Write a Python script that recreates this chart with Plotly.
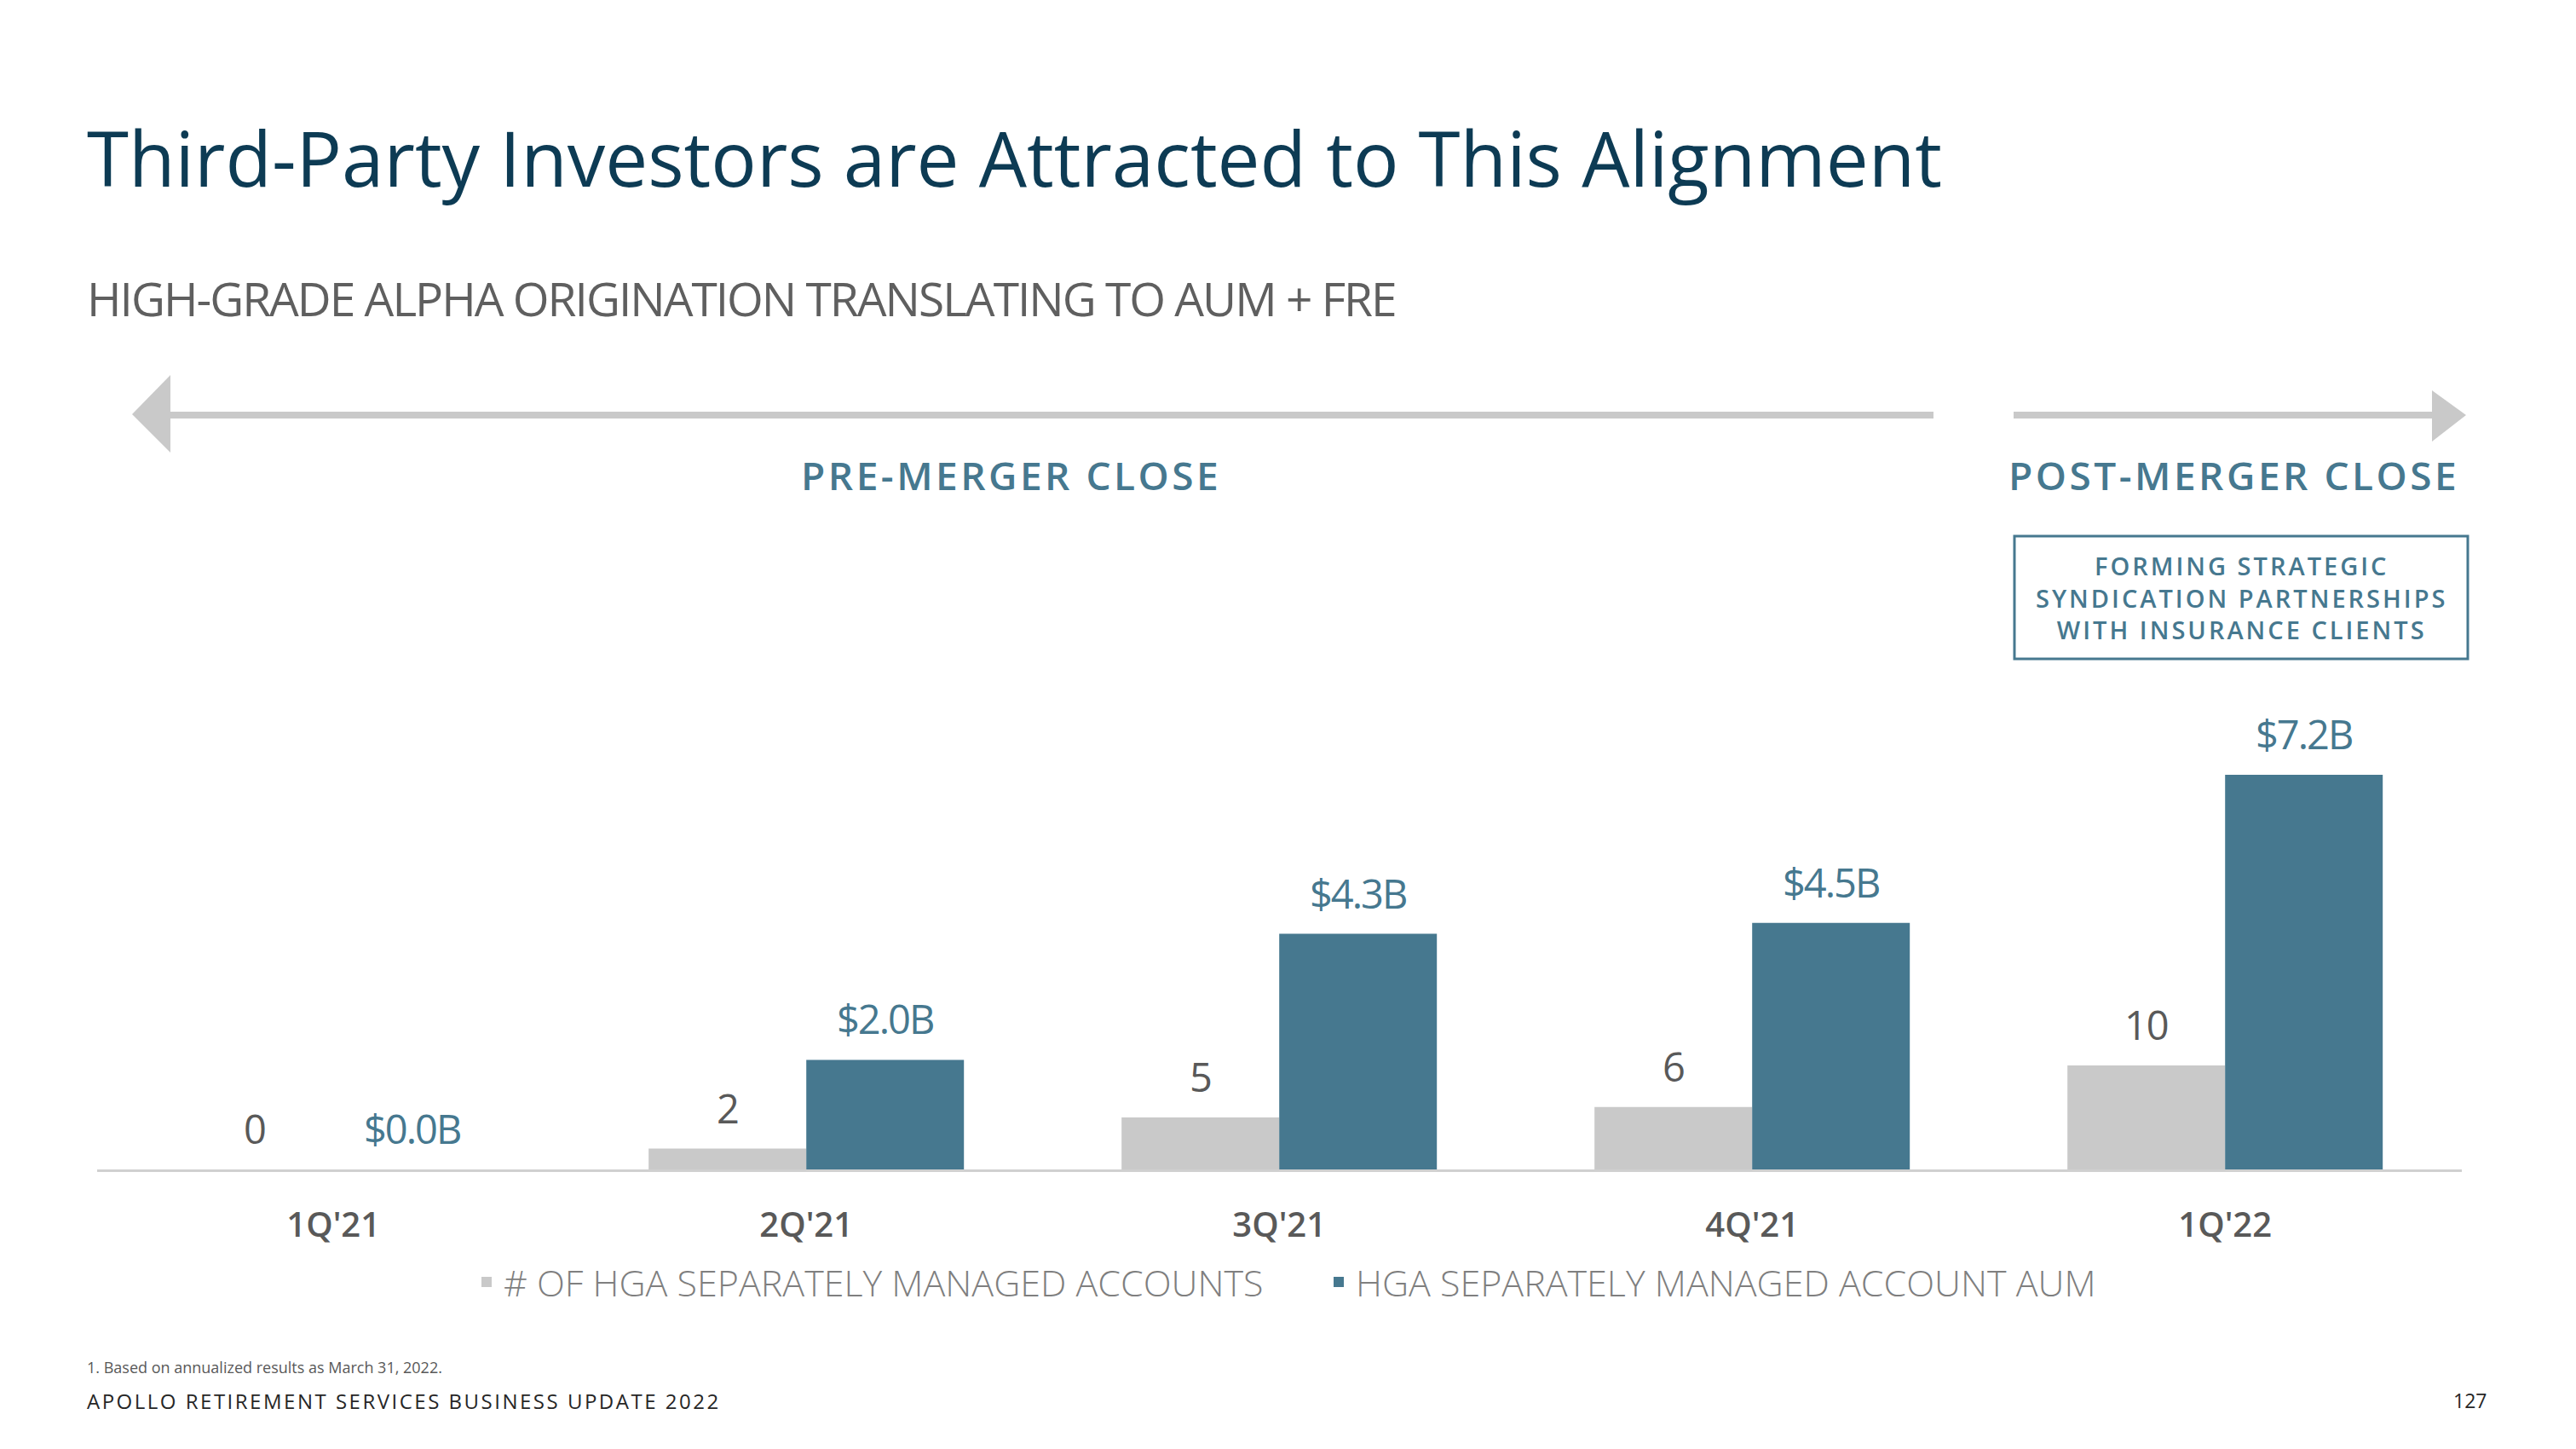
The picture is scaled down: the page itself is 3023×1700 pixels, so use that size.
import plotly.graph_objects as go

# ---------------- data ----------------
quarters = ["1Q'21", "2Q'21", "3Q'21", "4Q'21", "1Q'22"]
sma_counts = [0, 2, 5, 6, 10]
sma_aum_bn = [0.0, 2.0, 4.3, 4.5, 7.2]
count_series_name = "# OF HGA SEPARATELY MANAGED ACCOUNTS"
aum_series_name = "HGA SEPARATELY MANAGED ACCOUNT AUM"

# ---------------- style ----------------
W, H = 3023, 1700
GRAY_BAR = "#C9C9C9"
BLUE = "#46788F"
TITLE_COL = "#0D3B54"
TEXT_GRAY = "#595959"
SANS = "Open Sans, Noto Sans, sans-serif"


def px(x):
    return x / W


def py(y):
    return 1 - y / H


def spaced(text, ls):
    return f'<span style="letter-spacing:{ls}px">{text}</span>'


fig = go.Figure()
fig.add_trace(go.Bar(
    x=quarters, y=sma_counts, name=count_series_name,
    marker=dict(color=GRAY_BAR, line=dict(width=0)),
    offsetgroup="counts", yaxis="y", hoverinfo="skip",
))
fig.add_trace(go.Bar(
    x=quarters, y=sma_aum_bn, name=aum_series_name,
    marker=dict(color=BLUE, line=dict(width=0)),
    offsetgroup="aum", yaxis="y2", hoverinfo="skip",
))

annotations = []
# value labels above bars
for q, c in zip(quarters, sma_counts):
    annotations.append(dict(
        x=q, y=c, xref="x", yref="y", xshift=-92.5, yshift=14,
        yanchor="bottom", xanchor="center", showarrow=False,
        text=spaced(str(c), -1), font=dict(family=SANS, size=47, color=TEXT_GRAY)))
for q, v in zip(quarters, sma_aum_bn):
    annotations.append(dict(
        x=q, y=v, xref="x", yref="y2", xshift=92.5, yshift=14,
        yanchor="bottom", xanchor="center", showarrow=False,
        text=spaced(f"${v:.1f}B", -2), font=dict(family=SANS, size=47, color=BLUE)))

# titles and page text
annotations += [
    dict(x=px(100), y=py(184), xref="paper", yref="paper", xanchor="left", yanchor="middle",
         showarrow=False, text="Third-Party Investors are Attracted to This Alignment",
         font=dict(family=SANS, size=89, color=TITLE_COL)),
    dict(x=px(100), y=py(350), xref="paper", yref="paper", xanchor="left", yanchor="middle",
         showarrow=False, text=spaced("HIGH-GRADE ALPHA ORIGINATION TRANSLATING TO AUM + FRE", -2),
         font=dict(family=SANS, size=55, color="#5F5F5F")),
    dict(x=px(1186), y=py(557), xref="paper", yref="paper", xanchor="center", yanchor="middle",
         showarrow=False, text=spaced("PRE-MERGER CLOSE", 3.5),
         font=dict(family=SANS, size=46, color=BLUE, weight=600)),
    dict(x=px(2621), y=py(557), xref="paper", yref="paper", xanchor="center", yanchor="middle",
         showarrow=False, text=spaced("POST-MERGER CLOSE", 3.5),
         font=dict(family=SANS, size=46, color=BLUE, weight=600)),
    dict(x=px(2630), y=py(701), xref="paper", yref="paper", xanchor="center", yanchor="middle",
         showarrow=False, align="center",
         text="<br>".join(spaced(t, 3) for t in
                          ["FORMING STRATEGIC", "SYNDICATION PARTNERSHIPS", "WITH INSURANCE CLIENTS"]),
         font=dict(family=SANS, size=29, color=BLUE, weight=600)),
    dict(x=px(100), y=py(1604), xref="paper", yref="paper", xanchor="left", yanchor="middle",
         showarrow=False, text="1. Based on annualized results as March 31, 2022.",
         font=dict(family=SANS, size=18, color=TEXT_GRAY)),
    dict(x=px(100), y=py(1643), xref="paper", yref="paper", xanchor="left", yanchor="middle",
         showarrow=False, text=spaced("APOLLO RETIREMENT SERVICES BUSINESS UPDATE 2022", 2.5),
         font=dict(family=SANS, size=24, color="#262626")),
    dict(x=px(2920), y=py(1643), xref="paper", yref="paper", xanchor="right", yanchor="middle",
         showarrow=False, text="127",
         font=dict(family=SANS, size=23, color="#262626")),
]

ARROW = "#C9C9C9"
shapes = [
    # left arrow: shaft + head
    dict(type="rect", xref="paper", yref="paper", x0=px(198), x1=px(2269), y0=py(491), y1=py(483),
         fillcolor=ARROW, line=dict(width=0)),
    dict(type="path", xref="paper", yref="paper",
         path=f"M {px(155)},{py(486)} L {px(200)},{py(440)} L {px(200)},{py(531)} Z",
         fillcolor=ARROW, line=dict(width=0)),
    # right arrow: shaft + head
    dict(type="rect", xref="paper", yref="paper", x0=px(2363), x1=px(2856), y0=py(491), y1=py(483),
         fillcolor=ARROW, line=dict(width=0)),
    dict(type="path", xref="paper", yref="paper",
         path=f"M {px(2894)},{py(487)} L {px(2854)},{py(458)} L {px(2854)},{py(518)} Z",
         fillcolor=ARROW, line=dict(width=0)),
    # callout box
    dict(type="rect", xref="paper", yref="paper", x0=px(2364), x1=px(2896), y0=py(773), y1=py(629),
         line=dict(color=BLUE, width=3), fillcolor="rgba(0,0,0,0)"),
]

plot_top_px = 800
baseline_px = 1372
plot_h = baseline_px - plot_top_px

fig.update_layout(
    width=W, height=H,
    margin=dict(l=0, r=0, t=0, b=0),
    paper_bgcolor="white", plot_bgcolor="white",
    barmode="group", bargap=1 / 3, bargroupgap=0,
    xaxis=dict(domain=[113.7 / W, 2888.7 / W], showline=True, linecolor="#D0D0D0", linewidth=3,
               showgrid=False, zeroline=False, ticks="", ticklabelstandoff=28,
               tickfont=dict(family=SANS, size=40, color=TEXT_GRAY, weight=600)),
    yaxis=dict(domain=[py(baseline_px), py(plot_top_px)], range=[0, plot_h / 12.2], visible=False),
    yaxis2=dict(domain=[py(baseline_px), py(plot_top_px)], range=[0, plot_h / 64.3], visible=False,
                overlaying="y", side="right"),
    legend=dict(orientation="h", x=px(551), xanchor="left", y=py(1504), yanchor="middle",
                entrywidth=955, entrywidthmode="pixels",
                font=dict(family=SANS, size=43, color="#7F7F7F", weight=300),
                bgcolor="rgba(0,0,0,0)", traceorder="normal"),
    annotations=annotations,
    shapes=shapes,
    showlegend=True,
)

fig.write_html("out.html")
